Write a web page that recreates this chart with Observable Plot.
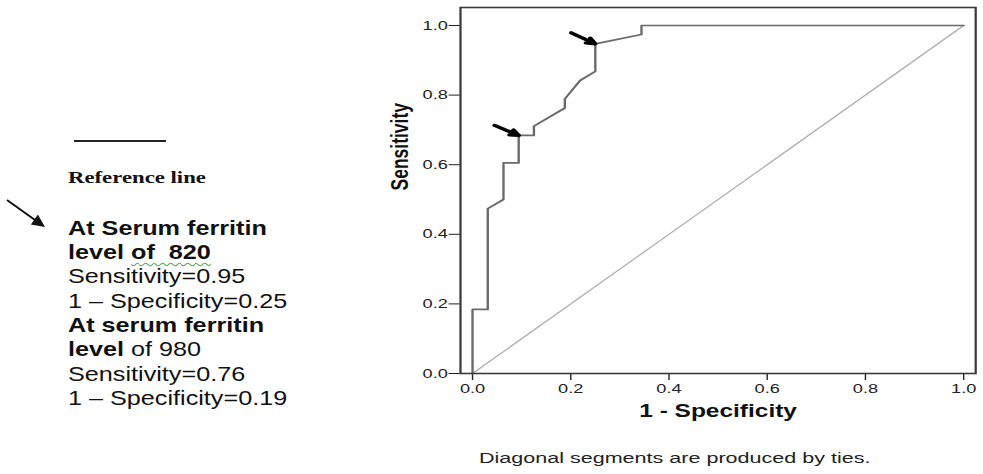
<!DOCTYPE html>
<html>
<head>
<meta charset="utf-8">
<script src="https://cdn.jsdelivr.net/npm/d3@7"></script>
<script src="https://cdn.jsdelivr.net/npm/@observablehq/plot@0.6"></script>
<style>
  html, body { margin: 0; padding: 0; background: #fff; }
  body { width: 983px; height: 474px; position: relative; overflow: hidden; }
  #chart { position: absolute; left: 380px; top: 0; transform: scaleX(1.4); transform-origin: 0 0; }
  .legline { position: absolute; left: 74px; top: 140px; width: 92px; border-top: 2px solid #222; }
  .refline { position: absolute; left: 68px; top: 167px; font-family: "Liberation Serif", "Times New Roman", serif;
             font-weight: bold; font-size: 17.5px; line-height: 20px; color: #111; white-space: nowrap;
             transform: scaleX(1.3); transform-origin: 0 0; }
  .notes { position: absolute; left: 68px; top: 215.5px; font-family: "Liberation Sans", Arial, sans-serif;
           font-size: 21px; line-height: 24.4px; color: #111; white-space: pre;
           transform: scaleX(1.2); transform-origin: 0 0; }
  .notes div { height: 24.4px; }
  .notes b { font-weight: bold; }
  .wavy { text-decoration: underline wavy #4caf50; text-decoration-thickness: 1px; text-underline-offset: 3px; }
  #legarrow { position: absolute; left: 0; top: 0; }
</style>
</head>
<body>
<div class="legline"></div>
<div class="refline">Reference line</div>
<svg id="legarrow" width="60" height="240">
  <line x1="7" y1="200" x2="35" y2="220" stroke="#111" stroke-width="2"/>
  <polygon points="45,227 37.9,214.6 30.9,224.4" fill="#111"/>
</svg>
<div class="notes" id="notes"></div>
<div id="chart"></div>
<script>
// ROC curve (1 - Specificity, Sensitivity)
const fpr = [0, 0, 0.031, 0.031, 0.063, 0.063, 0.094, 0.094, 0.125, 0.125, 0.188, 0.188, 0.219, 0.25, 0.25, 0.344, 0.344, 1];
const tpr = [0, 0.184, 0.184, 0.474, 0.5, 0.605, 0.605, 0.684, 0.684, 0.711, 0.763, 0.789, 0.842, 0.868, 0.947, 0.974, 1, 1];
// Reference (chance) line
const refX = [0, 1];
const refY = [0, 1];
// Arrow annotations: tail -> tip on the curve
const arrowX1 = [0.201, 0.045];
const arrowY1 = [0.979, 0.713];
const arrowX2 = [0.25, 0.094];
const arrowY2 = [0.947, 0.684];
// Ticks
const xTicks = [0, 0.2, 0.4, 0.6, 0.8, 1.0];
const yTicks = [0, 0.2, 0.4, 0.6, 0.8, 1.0];
// Texts
const xLabel = "1 - Specificity";
const yLabel = "Sensitivity";
const caption = "Diagonal segments are produced by ties.";
const noteLines = [
  ["b", "At Serum ferritin"],
  ["b", "level ", "w", "of  820"],
  ["r", "Sensitivity=0.95"],
  ["r", "1 \u2013 Specificity=0.25"],
  ["b", "At serum ferritin"],
  ["b", "level ", "r", "of 980"],
  ["r", "Sensitivity=0.76"],
  ["r", "1 \u2013 Specificity=0.19"]
];

const notes = document.getElementById("notes");
notes.innerHTML = noteLines.map(parts => {
  let html = "";
  for (let i = 0; i < parts.length; i += 2) {
    const kind = parts[i], txt = parts[i + 1];
    if (kind === "b") html += "<b>" + txt + "</b>";
    else if (kind === "w") html += "<b class=\"wavy\">" + txt + "</b>";
    else html += "<span>" + txt + "</span>";
  }
  return "<div>" + html + "</div>";
}).join("");

const roc = fpr.map((x, i) => ({x, y: tpr[i]}));
const ref = refX.map((x, i) => ({x, y: refY[i]}));
const arrows = arrowX1.map((x1, i) => ({x1, y1: arrowY1[i], x2: arrowX2[i], y2: arrowY2[i]}));

const chart = Plot.plot({
  width: 430,
  height: 474,
  marginLeft: 57,
  marginRight: 5,
  marginTop: 7,
  marginBottom: 101,
  style: {fontFamily: "'Liberation Sans', Arial, sans-serif", fontSize: "13px", color: "#222", background: "#fff", overflow: "visible"},
  x: {domain: [-0.0245, 1.0245], ticks: xTicks, tickFormat: ".1f", tickSize: 7, tickPadding: 3, label: null},
  y: {domain: [0, 1.0517], ticks: yTicks, tickFormat: ".1f", tickSize: 8, tickPadding: 1, label: null},
  marks: [
    Plot.line(ref, {x: "x", y: "y", stroke: "#b0b0b0", strokeWidth: 1.1}),
    Plot.line(roc, {x: "x", y: "y", stroke: "#6a6a6a", strokeWidth: 1.7, curve: "linear"}),
    Plot.frame({stroke: "#3a3a3a", strokeWidth: 1.6}),
    Plot.arrow(arrows, {x1: "x1", y1: "y1", x2: "x2", y2: "y2", stroke: "#000", strokeWidth: 3.2, headLength: 11, headAngle: 50}),
    Plot.text([yLabel], {frameAnchor: "left", dx: -43, rotate: -90, text: d => d, fontWeight: "bold", fontSize: 17.5, fill: "#111"}),
    Plot.text([xLabel], {frameAnchor: "bottom", dy: 43, text: d => d, fontWeight: "bold", fontSize: 17.5, fill: "#111"}),
    Plot.text([caption], {frameAnchor: "bottom", dx: -31, dy: 89, text: d => d, fontSize: 15.4, fill: "#222"})
  ]
});
document.getElementById("chart").appendChild(chart);
</script>
</body>
</html>
